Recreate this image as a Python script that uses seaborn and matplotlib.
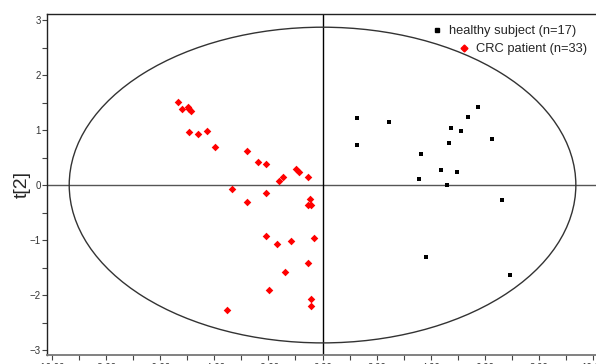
import matplotlib.pyplot as plt
import matplotlib.patches as mpatches
from matplotlib.lines import Line2D
from matplotlib.ticker import MultipleLocator
import numpy as np
import pandas as pd
import seaborn as sns

# scores: t[1] (x) and t[2] (y)
healthy_t1 = [1.29, 2.47, 5.74, 5.36, 4.73, 5.11, 6.24, 1.29, 4.65, 3.65,
              4.36, 4.96, 3.55, 4.59, 6.64, 3.81, 6.92]
healthy_t2 = [1.21, 1.15, 1.42, 1.24, 1.03, 0.99, 0.84, 0.73, 0.76, 0.57,
              0.28, 0.24, 0.11, 0.00, -0.28, -1.30, -1.64]

crc_t1 = [-5.33, -5.17, -4.98, -4.92, -4.87, -4.92, -4.58, -4.26, -3.97, -2.77,
          -2.40, -2.08, -0.97, -0.87, -0.55, -1.46, -1.59, -3.34, -2.08, -2.77,
          -0.47, -0.53, -0.43, -2.07, -1.69, -1.18, -0.32, -0.53, -1.37, -1.99,
          -0.41, -0.43, -3.54]
crc_t2 = [1.51, 1.39, 1.42, 1.38, 1.35, 0.96, 0.92, 0.99, 0.70, 0.62,
          0.41, 0.38, 0.29, 0.23, 0.14, 0.14, 0.07, -0.08, -0.14, -0.30,
          -0.25, -0.36, -0.36, -0.93, -1.07, -1.01, -0.96, -1.42, -1.58, -1.90,
          -2.07, -2.19, -2.27]

# Hotelling T2 ellipse half-axes
t2_a, t2_b = 9.35, 2.87

healthy = pd.DataFrame({"t1": healthy_t1, "t2": healthy_t2})
crc = pd.DataFrame({"t1": crc_t1, "t2": crc_t2})

sns.set_theme(style="white")
plt.rcParams["font.family"] = ["Liberation Sans", "DejaVu Sans"]

fig = plt.figure(figsize=(5.96, 3.64), dpi=100)
ax = fig.add_axes([47 / 596, 9 / 364, 560 / 596, 341 / 364])

ax.axhline(0, color="#555555", lw=1.0, zorder=1)
ax.axvline(0, color="#000000", lw=1.0, zorder=1)
ax.add_patch(mpatches.Ellipse((0, 0), 2 * t2_a, 2 * t2_b, fill=False,
                              ec="#333333", lw=1.0, zorder=1))

sns.scatterplot(data=healthy, x="t1", y="t2", marker="s", color="black",
                s=10, linewidth=0, ax=ax, zorder=3)
sns.scatterplot(data=crc, x="t1", y="t2", marker="D", color="#ff0000",
                s=15, linewidth=0, ax=ax, zorder=3)

ax.set_xlim(-10.17, 10.5)
ax.set_ylim(-3.09, 3.11)

ax.xaxis.set_major_locator(MultipleLocator(2))
ax.xaxis.set_minor_locator(MultipleLocator(1))
ax.yaxis.set_major_locator(MultipleLocator(1))
ax.yaxis.set_minor_locator(MultipleLocator(0.5))
ax.xaxis.set_major_formatter(lambda v, p: f"{v:.2f}")
ax.tick_params(which="both", direction="out", length=3.5, width=0.8,
               color="#444444", labelsize=7, labelcolor="#333333",
               bottom=True, left=True, pad=2)
ax.tick_params(axis="y", pad=1)

for side in ["left", "top", "bottom"]:
    ax.spines[side].set_color("#222222")
    ax.spines[side].set_linewidth(1.0)
ax.spines["bottom"].set_color("#777777")
ax.spines["bottom"].set_linewidth(1.3)
ax.spines["right"].set_visible(False)

ax.set_xlabel("")
ax.set_ylabel("t[2]", fontsize=14, labelpad=-1)

h1 = Line2D([], [], ls="none", marker="s", color="black", markersize=3)
h2 = Line2D([], [], ls="none", marker="D", color="#ff0000", markersize=3.5)
leg1 = ax.legend(handles=[h1], labels=["healthy subject (n=17)"], loc="upper left",
                 bbox_to_anchor=(0.671, 0.99), frameon=False, fontsize=9.3,
                 handlelength=1.0, handletextpad=0.45, borderaxespad=0.2)
ax.add_artist(leg1)
ax.legend(handles=[h2], labels=["CRC patient (n=33)"], loc="upper left",
          bbox_to_anchor=(0.719, 0.937), frameon=False, fontsize=9.3,
          handlelength=1.0, handletextpad=0.45, borderaxespad=0.2)

fig.savefig("out.png", dpi=100)
